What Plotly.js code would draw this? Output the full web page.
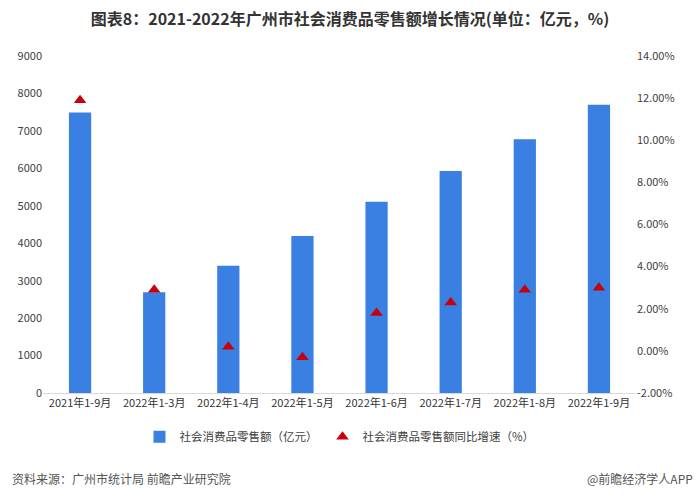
<!DOCTYPE html>
<html>
<head>
<meta charset="utf-8">
<script src="https://cdn.plot.ly/plotly-3.0.1.min.js"></script>
<style>html,body{margin:0;padding:0;background:#fff;}#chart{width:700px;height:498px;}</style>
</head>
<body>
<div id="chart"></div>
<script>
const categories = ["2021年1-9月","2022年1-3月","2022年1-4月","2022年1-5月","2022年1-6月","2022年1-7月","2022年1-8月","2022年1-9月"];
const salesValues = [7490, 2690, 3400, 4195, 5110, 5930, 6775, 7700];
const growthValues = [11.9, 2.9, 0.2, -0.3, 1.8, 2.3, 2.9, 3.0];
const leftTicks = [0,1000,2000,3000,4000,5000,6000,7000,8000,9000];
const rightTicks = [-2,0,2,4,6,8,10,12,14];

const font = "'Noto Sans CJK SC', 'Noto Sans', sans-serif";

const traces = [
  {
    type: 'bar', x: categories, y: salesValues, name: '社会消费品零售额（亿元）',
    marker: {color: '#3A80E2'}, yaxis: 'y'
  },
  {
    type: 'scatter', mode: 'markers', x: categories, y: growthValues,
    name: '社会消费品零售额同比增速（%）',
    marker: {symbol: 'triangle-up', color: '#C8000A', size: 11}, yaxis: 'y2'
  }
];

const layout = {
  width: 700, height: 498,
  margin: {l: 43, r: 64, t: 56, b: 105},
  paper_bgcolor: '#fff', plot_bgcolor: '#fff',
  font: {family: font, size: 11, color: '#404040'},
  title: {text: '<b>图表8：2021-2022年广州市社会消费品零售额增长情况(单位：亿元，%)</b>',
          x: 0.5, xanchor: 'center', y: 0.962, yanchor: 'middle',
          font: {family: font, size: 16, color: '#333'}},
  bargap: 0.7,
  showlegend: true,
  legend: {orientation: 'h', x: 0.5, xanchor: 'center', y: -0.13, yanchor: 'middle',
           font: {size: 11.5, color: '#404040'}, traceorder: 'normal', itemwidth: 30},
  xaxis: {type: 'category', showline: true, linecolor: '#d9d9d9', linewidth: 1,
          ticks: '', tickfont: {size: 11, color: '#333'}, showgrid: false, fixedrange: true},
  yaxis: {range: [0, 9000], tickvals: leftTicks, ticktext: leftTicks.map(String),
          showgrid: false, zeroline: false, ticks: '', tickfont: {size: 11, color: '#404040'}},
  yaxis2: {range: [-2, 14], overlaying: 'y', side: 'right', tickvals: rightTicks,
           ticktext: rightTicks.map(v => v.toFixed(2) + '%'),
           showgrid: false, zeroline: false, ticks: '', ticklen: 0,
           tickfont: {size: 11, color: '#404040'}},
  annotations: [
    {text: '资料来源：广州市统计局 前瞻产业研究院', xref: 'paper', yref: 'paper',
     x: -0.055, xanchor: 'left', y: -0.253, yanchor: 'middle', showarrow: false,
     font: {size: 12, color: '#555'}},
    {text: '@前瞻经济学人APP', xref: 'paper', yref: 'paper',
     x: 1.10, xanchor: 'right', y: -0.253, yanchor: 'middle', showarrow: false,
     font: {size: 12, color: '#555'}}
  ]
};

Plotly.newPlot('chart', traces, layout, {displayModeBar: false, staticPlot: true});
</script>
</body>
</html>
